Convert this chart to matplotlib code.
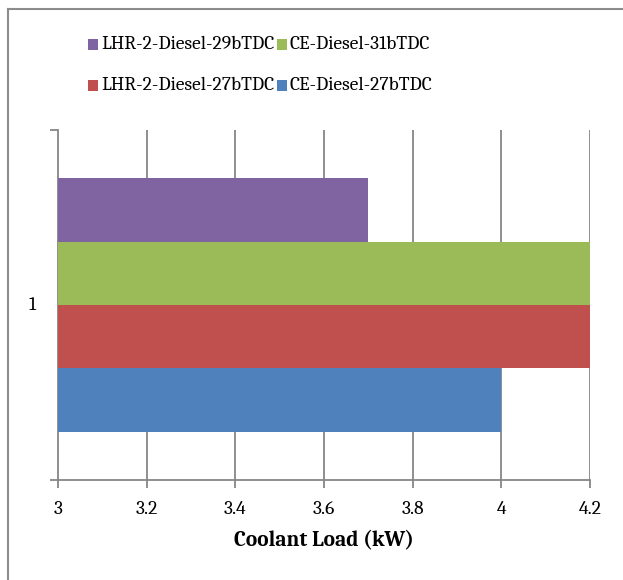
import matplotlib
matplotlib.use("Agg")
import matplotlib.pyplot as plt
from matplotlib.lines import Line2D
from matplotlib.patches import Rectangle

series = ["CE-Diesel-27bTDC", "LHR-2-Diesel-27bTDC", "CE-Diesel-31bTDC", "LHR-2-Diesel-29bTDC"]
values = [4.0, 4.2, 4.2, 3.7]
colors = ["#4F81BD", "#C0504D", "#9BBB59", "#8064A2"]
category = ["1"]
xticks = [3, 3.2, 3.4, 3.6, 3.8, 4, 4.2]
xlabel = "Coolant Load (kW)"

plt.rcParams['font.family'] = ['Caladea', 'Liberation Serif', 'DejaVu Serif']

W, H = 623, 580
fig = plt.figure(figsize=(W / 100, H / 100), dpi=100)
ax = fig.add_axes([58 / W, 1 - 480 / H, (590 - 58) / W, (480 - 130) / H])

bh = 0.1814
n = len(series)
for i, (s, v, c) in enumerate(zip(series, values, colors)):
    y = (i - (n - 1) / 2) * bh
    ax.barh(y, v - 3, left=3, height=bh, color=c, zorder=3, label=s)

ax.set_xlim(3, 4.2)
ax.set_ylim(-0.5, 0.5)
ax.set_xticks(xticks)
ax.set_xticklabels([("%g" % t) for t in xticks], fontsize=14)
ax.set_yticks([-0.5, 0.5])
ax.set_yticklabels([])
ax.text(-0.048, 0.5, category[0], transform=ax.transAxes, ha='center', va='center', fontsize=14)

grid_c = "#868686"
for t in xticks[1:]:
    ax.axvline(t, color=grid_c, lw=1.3, zorder=1)
for sp in ['top', 'right']:
    ax.spines[sp].set_visible(False)
for sp in ['left', 'bottom']:
    ax.spines[sp].set_color(grid_c)
    ax.spines[sp].set_linewidth(1.3)
ax.tick_params(axis='x', colors=grid_c, length=6, width=1.3, labelcolor='black', pad=9)
ax.tick_params(axis='y', colors=grid_c, length=6, width=1.3)

ax.set_xlabel(xlabel, fontsize=15.5, fontweight='bold', labelpad=9)

# legend (two rows, two columns)
order = [3, 2, 1, 0]
pos = [(88, 44), (277, 44), (88, 85), (277, 85)]
for i, (px, py) in zip(order, pos):
    fig.add_artist(Rectangle((px / W, 1 - (py + 5.5) / H), 10 / W, 11 / H,
                             transform=fig.transFigure, facecolor=colors[i], edgecolor='none'))
    fig.text((px + 13) / W, 1 - py / H, series[i], fontsize=14, ha='left', va='center')

# outer chart border (left and top visible)
fig.add_artist(Line2D([8 / W, 8 / W], [0, 1 - 9 / H], color="#8c8c8c", lw=1.5, transform=fig.transFigure))
fig.add_artist(Line2D([8 / W, 1], [1 - 9 / H, 1 - 9 / H], color="#8c8c8c", lw=1.5, transform=fig.transFigure))

fig.savefig("out.png", dpi=100)
